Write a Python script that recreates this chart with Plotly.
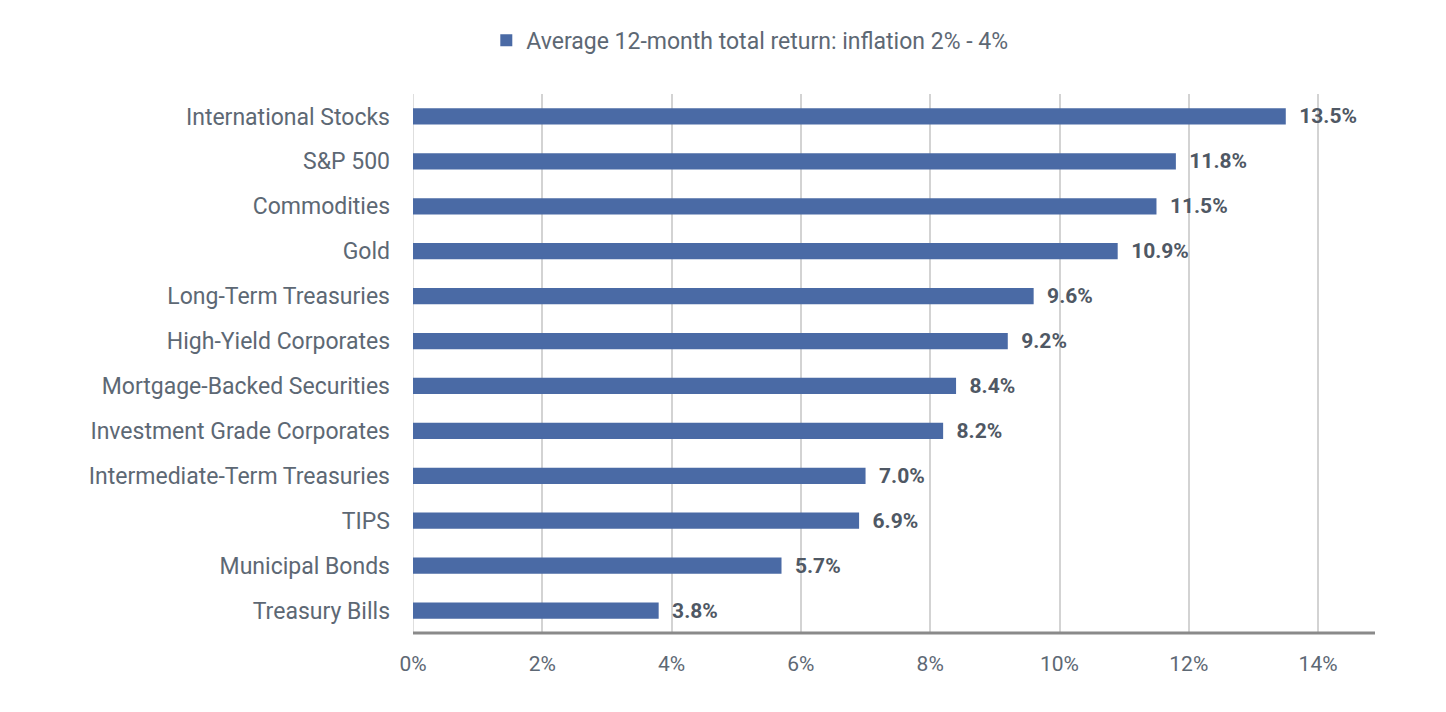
import plotly.graph_objects as go

categories = [
    "International Stocks", "S&P 500", "Commodities", "Gold",
    "Long-Term Treasuries", "High-Yield Corporates", "Mortgage-Backed Securities",
    "Investment Grade Corporates", "Intermediate-Term Treasuries", "TIPS",
    "Municipal Bonds", "Treasury Bills",
]
returns = [13.5, 11.8, 11.5, 10.9, 9.6, 9.2, 8.4, 8.2, 7.0, 6.9, 5.7, 3.8]
tick_vals = [0, 2, 4, 6, 8, 10, 12, 14]
tick_text = ["0%", "2%", "4%", "6%", "8%", "10%", "12%", "14%"]
series_name = "Average 12-month total return: inflation 2% - 4%"

bar_color = "#4a6aa5"
label_color = "#5d6874"

fig = go.Figure()
fig.add_trace(go.Bar(
    x=returns, y=categories, orientation="h",
    name=series_name,
    marker=dict(color=bar_color, line=dict(width=0)),
    width=0.36,
    # leading spaces give the gap between bar end and value label
    text=[f"&nbsp;&nbsp;{v:.1f}%" for v in returns],
    textposition="outside",
    constraintext="none",
    textfont=dict(size=21, color="#4f5864", family="Roboto", weight="bold"),
    cliponaxis=False,
))

# page body adds an 8px offset, so margins are shifted to compensate
fig.update_layout(
    width=1446, height=712,
    margin=dict(l=405, r=79, t=86, b=87),
    paper_bgcolor="white", plot_bgcolor="white",
    font=dict(family="Roboto", color=label_color, size=20),
    showlegend=True,
    legend=dict(orientation="h", x=0.513, xref="container", xanchor="center",
                y=0.985, yref="container", yanchor="top",
                font=dict(size=23, color=label_color),
                itemwidth=30),
    xaxis=dict(range=[0, 14.88], tickvals=tick_vals, ticktext=tick_text,
               showgrid=True, gridcolor="#d3d3d3", gridwidth=1.5,
               zeroline=False, showline=False, ticks="", ticklabelstandoff=16,
               tickfont=dict(size=21, color=label_color)),
    yaxis=dict(categoryorder="array", categoryarray=categories[::-1],
               showgrid=False, zeroline=False, showline=False, ticks="",
               ticklabelstandoff=22, tickfont=dict(size=23, color=label_color)),
)
# thick baseline along the bottom of the plot
fig.add_shape(type="line", xref="paper", yref="paper", x0=0, x1=1, y0=0, y1=0,
              line=dict(color="#8a8a8a", width=3))
fig.add_shape(type="line", xref="x", yref="paper", x0=0, x1=0, y0=0, y1=1,
              line=dict(color="#d3d3d3", width=1.5), layer="below")

fig.write_html("out.html")
